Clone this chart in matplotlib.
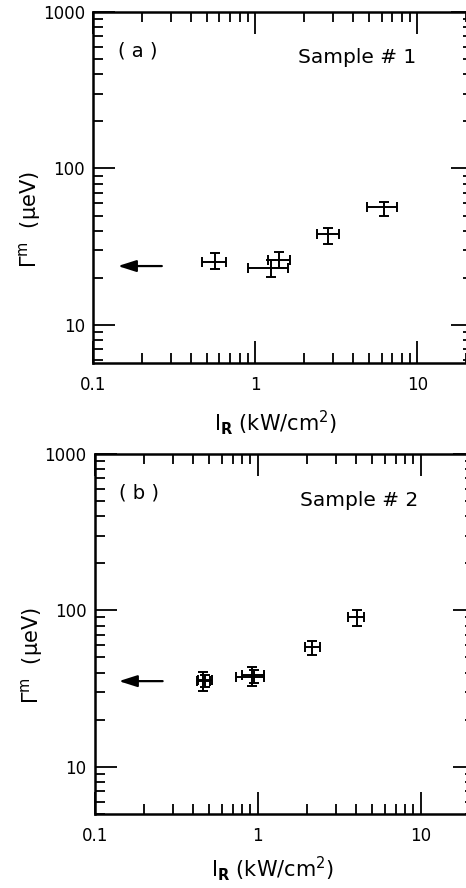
import numpy as np
import matplotlib
matplotlib.use("Agg")
import matplotlib.pyplot as plt
from matplotlib.ticker import LogLocator, FuncFormatter, NullFormatter

plt.rcParams['font.family'] = ['DejaVu Sans']
plt.rcParams['mathtext.fontset'] = 'dejavusans'

# sample 1 (panel a)
x_a = [0.56, 1.25, 1.40, 2.8, 6.2]
x_a_lo = [0.47, 0.90, 1.20, 2.4, 4.9]
x_a_hi = [0.66, 1.59, 1.64, 3.3, 7.5]
y_a = [25.2, 23.1, 25.9, 38.0, 56.5]
y_a_lo = [22.8, 20.2, 23.1, 33.0, 50.0]
y_a_hi = [28.7, 25.9, 29.2, 41.5, 61.0]
arrow_a = (0.265, 0.142, 23.8)

# sample 2 (panel b) - pairs of overlapping points
x_b = [0.46, 0.47, 0.92, 0.95, 2.15, 4.07]
x_b_lo = [0.42, 0.43, 0.73, 0.80, 1.96, 3.6]
x_b_hi = [0.51, 0.52, 1.09, 1.09, 2.40, 4.5]
y_b = [35.3, 36.0, 37.4, 38.5, 58.0, 90.0]
y_b_lo = [30.5, 32.5, 32.8, 34.5, 51.6, 80.0]
y_b_hi = [40.3, 38.8, 43.4, 41.5, 63.5, 100.0]
arrow_b = (0.26, 0.14, 35.3)

panels = [
    dict(x=x_a, xlo=x_a_lo, xhi=x_a_hi, y=y_a, ylo=y_a_lo, yhi=y_a_hi,
         arrow=arrow_a, tag="( a )", name="Sample # 1", ylim=(5.7, 1000),
         xmax=22.0, rect=[0.200, 0.591, 0.815, 0.3955],
         ylab=(-0.133, 0.41), xlab=(0.479, -0.128)),
    dict(x=x_b, xlo=x_b_lo, xhi=x_b_hi, y=y_b, ylo=y_b_lo, yhi=y_b_hi,
         arrow=arrow_b, tag="( b )", name="Sample # 2", ylim=(5.0, 1000),
         xmax=21.5, rect=[0.204, 0.0833, 0.815, 0.4057],
         ylab=(-0.133, 0.44), xlab=(0.466, -0.111)),
]

fig = plt.figure(figsize=(4.66, 8.88), dpi=100)

for p in panels:
    ax = fig.add_axes(p['rect'])
    ax.set_xscale('log')
    ax.set_yscale('log')
    ax.set_xlim(0.1, p['xmax'])
    ax.set_ylim(*p['ylim'])

    x = np.array(p['x'])
    y = np.array(p['y'])
    xerr = [x - np.array(p['xlo']), np.array(p['xhi']) - x]
    yerr = [y - np.array(p['ylo']), np.array(p['yhi']) - y]
    ax.errorbar(x, y, xerr=xerr, yerr=yerr, fmt='none', ecolor='black',
                elinewidth=1.4, capsize=3.5, capthick=1.4)

    x0, x1, ya = p['arrow']
    ax.annotate('', xy=(x1, ya), xytext=(x0, ya),
                arrowprops=dict(arrowstyle='-|>,head_length=1.1,head_width=0.35',
                                color='black', lw=1.6, shrinkA=0, shrinkB=0))

    # right spine sits just past the image edge, as in the scan
    ax.text(0.064, 0.89, p['tag'], transform=ax.transAxes, fontsize=14,
            va='center', ha='left')
    ax.text(0.54, 0.87, p['name'], transform=ax.transAxes, fontsize=14.5,
            va='center', ha='left')

    ax.xaxis.set_major_locator(LogLocator(base=10, subs=(1.0,)))
    ax.xaxis.set_minor_locator(LogLocator(base=10, subs=np.arange(2, 10)))
    ax.yaxis.set_major_locator(LogLocator(base=10, subs=(1.0,)))
    ax.yaxis.set_minor_locator(LogLocator(base=10, subs=np.arange(2, 10)))
    fmt = FuncFormatter(lambda v, pos: '%g' % v)
    ax.xaxis.set_major_formatter(fmt)
    ax.yaxis.set_major_formatter(fmt)
    ax.xaxis.set_minor_formatter(NullFormatter())
    ax.yaxis.set_minor_formatter(NullFormatter())

    ax.tick_params(which='both', direction='in', top=True, right=True,
                   width=1.3, labelsize=12)
    ax.tick_params(which='major', length=16, pad=6)
    ax.tick_params(axis='x', which='major', pad=9)
    ax.tick_params(which='minor', length=7)
    for s in ax.spines.values():
        s.set_linewidth(1.8)

    ax.set_xlabel(r'$\mathrm{I}_{\mathbf{R}}$ (kW/cm$^2$)', fontsize=15)
    ax.xaxis.set_label_coords(*p['xlab'])
    ax.set_ylabel('Γ$^{\\mathrm{m}}$  (μeV)', fontsize=15)
    ax.yaxis.set_label_coords(*p['ylab'])

fig.savefig('out.png', dpi=100)
